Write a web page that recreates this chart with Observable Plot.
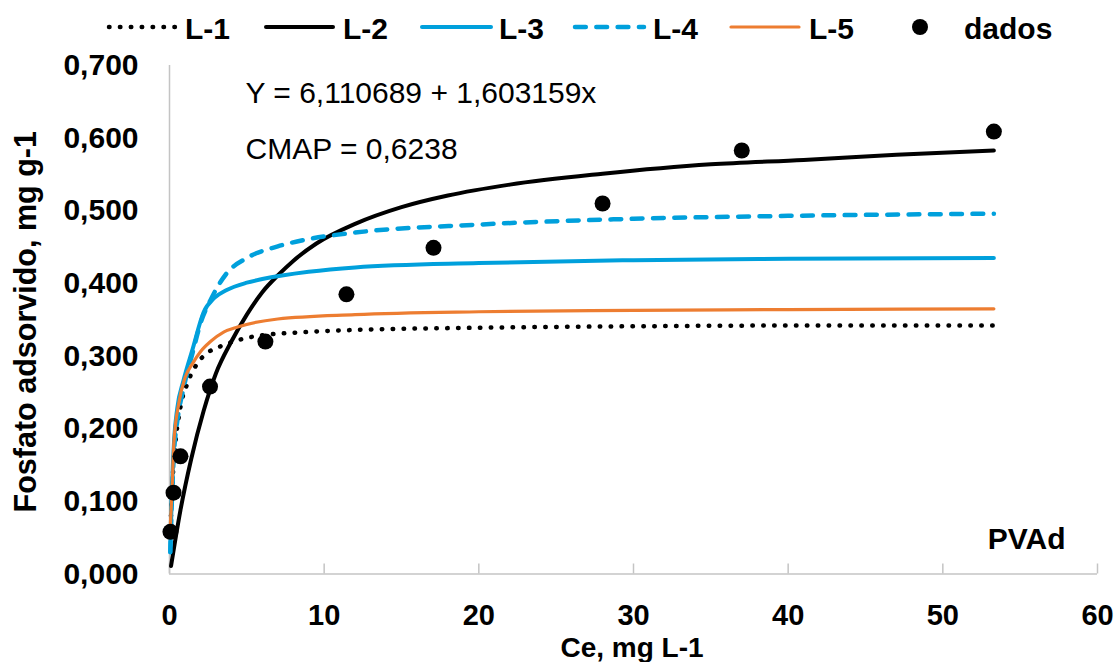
<!DOCTYPE html>
<html>
<head>
<meta charset="utf-8">
<script src="https://cdn.jsdelivr.net/npm/d3@7"></script>
<script src="https://cdn.jsdelivr.net/npm/@observablehq/plot@0.6"></script>
<style>
  html, body { margin: 0; padding: 0; background: #fff; }
  body { font-family: "Liberation Sans", Arial, sans-serif; width: 1118px; height: 662px; overflow: hidden; }
  #legend svg, #chart svg { display: block; }
</style>
</head>
<body>
<div id="legend"></div>
<div id="chart"></div>
<script>
// ---------- data ----------
const xTicks = [0, 10, 20, 30, 40, 50, 60];
const yTicks = [0, 0.1, 0.2, 0.3, 0.4, 0.5, 0.6, 0.7];

const seriesNames = ["L-1", "L-2", "L-3", "L-4", "L-5"];
const dataName = "dados";

const dadosCe = [0.06, 0.26, 0.71, 2.62, 6.2, 11.44, 17.07, 28.0, 37.0, 53.3];
const dadosQ  = [0.058, 0.112, 0.162, 0.258, 0.320, 0.385, 0.449, 0.510, 0.583, 0.609];

const l1Ce = [0.05, 0.15, 0.3, 0.7, 1.15, 1.8, 2.5, 3.5, 5.0, 6.1, 8.0, 12.0, 20.0, 30.0, 40.0, 53.3];
const l1Q  = [0.05, 0.11, 0.16, 0.229, 0.262, 0.29, 0.305, 0.315, 0.325, 0.329, 0.332, 0.336, 0.339, 0.341, 0.342, 0.342];

const l2Ce = [0.1, 0.7, 1.4, 2.2, 3.0, 4.0, 5.0, 6.0, 7.0, 8.0, 9.5, 12.0, 15.0, 18.0, 22.0, 28.0, 35.0, 41.0, 47.0, 53.3];
const l2Q  = [0.011, 0.087, 0.158, 0.224, 0.276, 0.320, 0.357, 0.388, 0.411, 0.431, 0.455, 0.482, 0.505, 0.521, 0.536, 0.551, 0.564, 0.570, 0.577, 0.583];

const l3Ce = [0.05, 0.15, 0.3, 0.5, 0.9, 1.5, 2.2, 2.9, 3.7, 5.0, 6.0, 9.0, 12.0, 20.0, 30.0, 40.0, 53.3];
const l3Q  = [0.03, 0.11, 0.185, 0.228, 0.266, 0.31, 0.36, 0.38, 0.391, 0.401, 0.406, 0.416, 0.422, 0.428, 0.432, 0.434, 0.435];

const l4Ce = [0.05, 0.15, 0.3, 0.5, 0.9, 1.5, 2.0, 2.65, 3.7, 5.0, 7.0, 9.0, 12.0, 20.0, 30.0, 40.0, 53.3];
const l4Q  = [0.03, 0.1, 0.17, 0.21, 0.255, 0.305, 0.345, 0.377, 0.414, 0.435, 0.451, 0.461, 0.470, 0.481, 0.489, 0.493, 0.496];

const l5Ce = [0.06, 0.17, 0.28, 0.6, 1.0, 1.5, 2.0, 2.65, 3.5, 4.4, 7.0, 12.0, 20.0, 30.0, 40.0, 53.3];
const l5Q  = [0.069, 0.119, 0.18, 0.235, 0.27, 0.29, 0.306, 0.320, 0.333, 0.340, 0.351, 0.357, 0.361, 0.363, 0.364, 0.365];

const equationText = "Y = 6,110689 + 1,603159x";
const cmapText = "CMAP = 0,6238";
const panelText = "PVAd";
const xTitle = "Ce, mg L-1";
const yTitle = "Fosfato adsorvido, mg g-1";

// ---------- styles ----------
const BLUE = "#00A0DC", ORANGE = "#ED7D31", AXIS = "#c4c4c4";
const style = {
  "L-1": {stroke: "#000", strokeWidth: 4.5, strokeDasharray: "0.5,10.4", strokeLinecap: "round"},
  "L-2": {stroke: "#000", strokeWidth: 4, strokeDasharray: null, strokeLinecap: "round"},
  "L-3": {stroke: BLUE, strokeWidth: 4, strokeDasharray: null, strokeLinecap: "round"},
  "L-4": {stroke: BLUE, strokeWidth: 4.5, strokeDasharray: "10.8,10.5", strokeLinecap: "round"},
  "L-5": {stroke: ORANGE, strokeWidth: 3.2, strokeDasharray: null, strokeLinecap: "round"}
};

// ---------- tables ----------
const curveCe = [l1Ce, l2Ce, l3Ce, l4Ce, l5Ce];
const curveQ = [l1Q, l2Q, l3Q, l4Q, l5Q];
const curves = seriesNames.map((name, i) => curveCe[i].map((ce, j) => ({serie: name, ce, q: curveQ[i][j]})));
const dados = dadosCe.map((ce, i) => ({ce, q: dadosQ[i]}));

const fmtY = d => d3.format(".3f")(d).replace(".", ",");

// ---------- legend (SVG above the plot) ----------
const LEG_H = 48;
const legendLayout = [
  {name: "L-1", x0: 109, x1: 175, tx: 185},
  {name: "L-2", x0: 266, x1: 333, tx: 343},
  {name: "L-3", x0: 422, x1: 491, tx: 499},
  {name: "L-4", x0: 575, x1: 644, tx: 653},
  {name: "L-5", x0: 731, x1: 799, tx: 809},
  {name: dataName, dot: 920, tx: 964}
];
const lg = d3.select("#legend").append("svg").attr("width", 1118).attr("height", LEG_H)
  .attr("font-family", "'Liberation Sans', Arial, sans-serif");
for (const it of legendLayout) {
  if (it.dot != null) {
    lg.append("circle").attr("cx", it.dot).attr("cy", 27).attr("r", 8).attr("fill", "#000");
  } else {
    const s = style[it.name];
    lg.append("line").attr("x1", it.x0).attr("x2", it.x1).attr("y1", 27).attr("y2", 27)
      .attr("stroke", s.stroke).attr("stroke-width", s.strokeWidth)
      .attr("stroke-dasharray", s.strokeDasharray).attr("stroke-linecap", "round");
  }
  lg.append("text").attr("x", it.tx).attr("y", 38.5).attr("font-size", 30).attr("font-weight", "bold")
    .attr("fill", "#000").text(it.name);
}

// ---------- plot ----------
const W = 1118, H = 614;
const mL = 169, mR = 21, mT = 17, mB = 88.5;

const lineMarks = seriesNames.map((name, i) => Plot.line(curves[i], {
  x: "ce", y: "q", curve: "monotone-x",
  stroke: style[name].stroke, strokeWidth: style[name].strokeWidth,
  strokeDasharray: style[name].strokeDasharray, strokeLinecap: style[name].strokeLinecap,
  strokeLinejoin: "round"
}));

const chart = Plot.plot({
  width: W, height: H,
  marginLeft: mL, marginRight: mR, marginTop: mT, marginBottom: mB,
  style: {fontFamily: "'Liberation Sans', Arial, sans-serif", fontSize: "30px", fontWeight: "bold", color: "#000", background: "#fff", overflow: "visible"},
  x: {domain: [0, 60]},
  y: {domain: [0, 0.7]},
  marks: [
    Plot.ruleY([0], {stroke: AXIS, strokeWidth: 1.5}),
    Plot.ruleX([0], {stroke: AXIS, strokeWidth: 1.5}),
    Plot.axisX({ticks: xTicks, tickFormat: d => String(d), tickSize: 10, dy: -10, tickPadding: 30.4,
      stroke: AXIS, strokeWidth: 1.5, fill: "#000", fontSize: 29, label: null}),
    Plot.axisY({ticks: yTicks, tickFormat: fmtY, tickSize: 0, tickPadding: 31, fill: "#000", label: null}),
    ...lineMarks,
    Plot.dot(dados, {x: "ce", y: "q", r: 8, fill: "#000", stroke: null}),
    Plot.text([equationText], {text: d => d, frameAnchor: "top-left", dx: 76, dy: 37, lineAnchor: "bottom",
      textAnchor: "start", fontSize: 30, fontWeight: "normal", fill: "#000"}),
    Plot.text([cmapText], {text: d => d, frameAnchor: "top-left", dx: 76, dy: 93, lineAnchor: "bottom",
      textAnchor: "start", fontSize: 30, fontWeight: "normal", fill: "#000"}),
    Plot.text([panelText], {text: d => d, frameAnchor: "bottom-right", dx: -32, dy: -25, lineAnchor: "bottom",
      textAnchor: "end", fontSize: 30, fontWeight: "bold", fill: "#000"}),
    Plot.text([xTitle], {text: d => d, frameAnchor: "bottom", dx: -1.5, dy: 82.5, lineAnchor: "bottom",
      textAnchor: "middle", fontSize: 28, fontWeight: "bold", fill: "#000"}),
    Plot.text([yTitle], {text: d => d, frameAnchor: "left", dx: -134, dy: 2, rotate: -90, lineAnchor: "bottom",
      textAnchor: "middle", fontSize: 30.5, fontWeight: "bold", fill: "#000"})
  ]
});
document.getElementById("chart").appendChild(chart);
</script>
</body>
</html>
